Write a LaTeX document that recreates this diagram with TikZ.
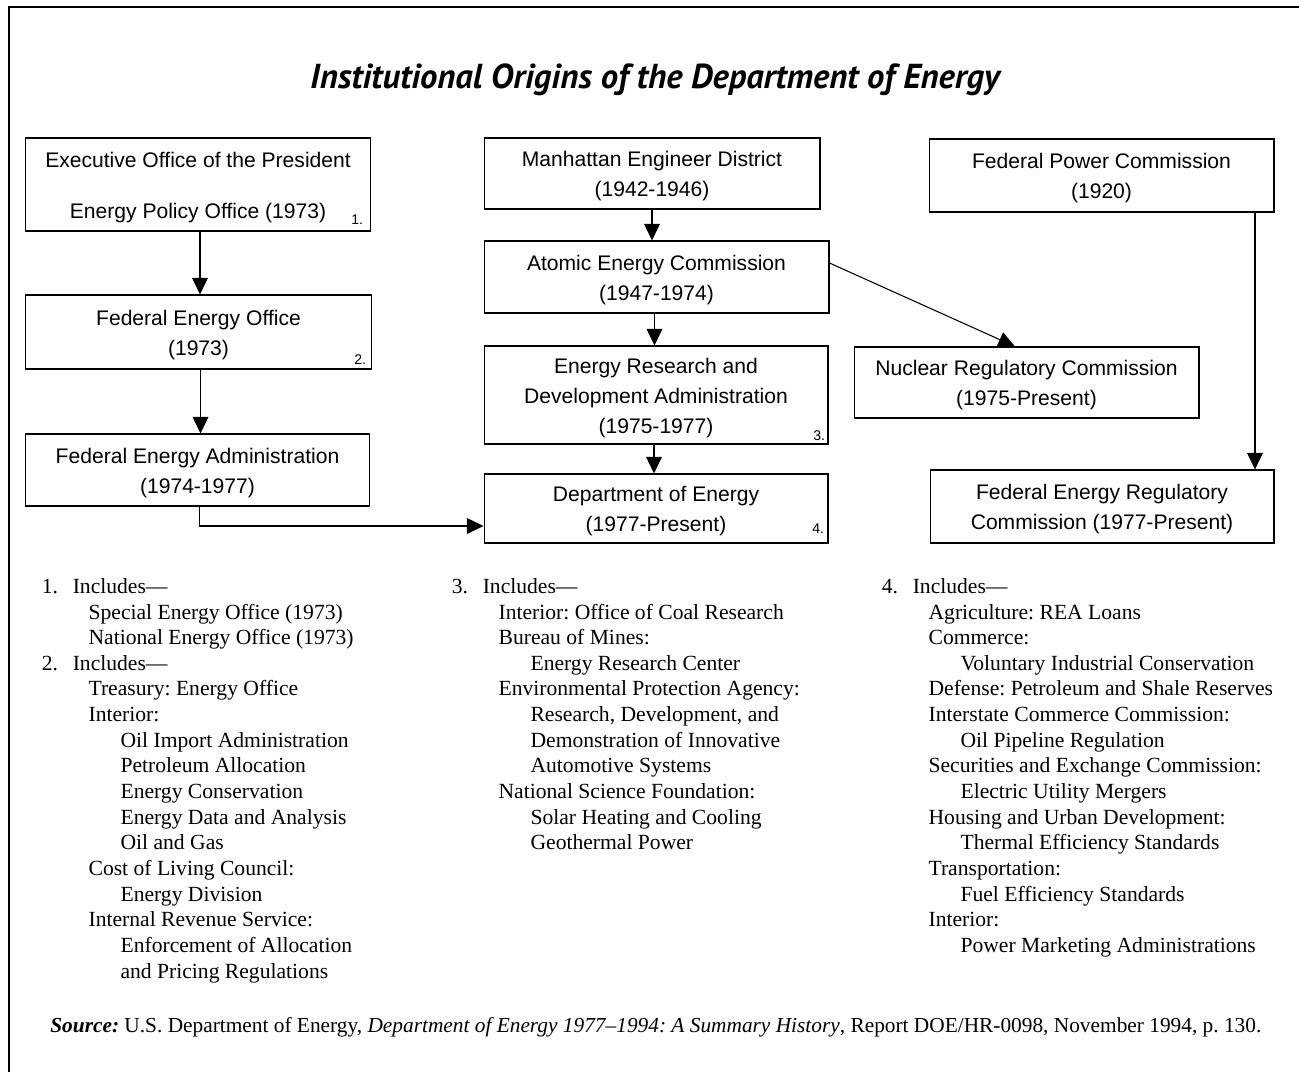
\documentclass[tikz,border=0pt]{standalone}
\usepackage{fontspec}
\setmainfont{Liberation Serif}
\newfontfamily\boxfont{Liberation Sans}
\newfontfamily\titlefont{PT Sans}
\usetikzlibrary{arrows.meta}
\frenchspacing
\newcommand{\subA}{\hspace*{26.6pt}}
\newcommand{\subB}{\hspace*{44.8pt}}
\newcommand{\noteno}[1]{\makebox[17.6pt][l]{#1}}
\newcommand{\tstrut}{\rule{0pt}{12pt}}
\begin{document}
\begin{tikzpicture}[x=0.02cm, y=-0.02cm, >={Triangle[length=9.5pt,width=9pt]},
  box/.style={draw, line width=0.6pt, inner sep=0pt, align=center, font=\boxfont\fontsize{12}{17}\selectfont},
  numlbl/.style={font=\boxfont\fontsize{8}{9}\selectfont, inner sep=0pt, anchor=base east},
  note/.style={anchor=north west, inner sep=0pt, align=left, font=\fontsize{12.3}{14.6}\selectfont},
  conn/.style={->, line width=0.6pt}]
\useasboundingbox (0,0) rectangle (1299,1072);
% frame
\draw[line width=1.5pt] (9,1090) -- (9,7) -- (1320,7);
\node[anchor=base, font=\titlefont\bfseries\itshape\fontsize{19.7}{22}\selectfont] (title) at (655,88) {Institutional Origins of the Department of Energy};

% left column
\node[box, minimum width=6.92cm, minimum height=1.86cm] (eop) at (198,184.5) {\tstrut Executive Office of the President\\[12pt]Energy Policy Office (1973)};
\node[box, minimum width=6.94cm, minimum height=1.48cm] (feo) at (198.5,332) {\tstrut Federal Energy Office\\(1973)};
\node[box, minimum width=6.9cm, minimum height=1.44cm] (fea) at (197.5,470) {\tstrut Federal Energy Administration\\(1974-1977)};
% middle column
\node[box, minimum width=6.72cm, minimum height=1.42cm] (med) at (652,173.5) {\tstrut Manhattan Engineer District\\(1942-1946)};
\node[box, minimum width=6.9cm, minimum height=1.44cm] (aec) at (656.5,277) {\tstrut Atomic Energy Commission\\(1947-1974)};
\node[box, minimum width=6.88cm, minimum height=1.96cm] (erda) at (656,395) {\tstrut Energy Research and\\Development Administration\\(1975-1977)};
\node[box, minimum width=6.88cm, minimum height=1.38cm] (doe) at (656,508.5) {\tstrut Department of Energy\\(1977-Present)};
% right column
\node[box, minimum width=6.9cm, minimum height=1.46cm] (fpc) at (1101.5,175.5) {\tstrut Federal Power Commission\\(1920)};
\node[box, minimum width=6.9cm, minimum height=1.42cm] (nrc) at (1026.5,382.5) {\tstrut Nuclear Regulatory Commission\\(1975-Present)};
\node[box, minimum width=6.88cm, minimum height=1.46cm] (ferc) at (1102,506.5) {\tstrut Federal Energy Regulatory\\Commission (1977-Present)};

\node[numlbl] (n1) at ([xshift=-0.16cm, yshift=0.14cm]eop.south east) {1.};
\node[numlbl] (n2) at ([xshift=-0.12cm, yshift=0.1cm]feo.south east) {2.};
\node[numlbl] (n3) at ([xshift=-0.06cm, yshift=0.08cm]erda.south east) {3.};
\node[numlbl] (n4) at ([xshift=-0.08cm, yshift=0.2cm]doe.south east) {4.};

\draw[conn] ([xshift=0.04cm]eop.south) -- ([xshift=0.04cm]eop.south |- feo.north);
\draw[conn] ([xshift=0.04cm]feo.south) -- ([xshift=0.04cm]feo.south |- fea.north);
\draw[conn] ([xshift=0.04cm]fea.south) |- ([yshift=-0.35cm]doe.west);
\draw[conn] (med.south) -- (med.south |- aec.north);
\draw[conn] ([xshift=-0.04cm]aec.south) -- ([xshift=-0.04cm]aec.south |- erda.north);
\draw[conn] ([xshift=-0.04cm]erda.south) -- ([xshift=-0.04cm]erda.south |- doe.north);
\draw[conn] ([yshift=0.28cm]aec.east) -- ([xshift=-0.23cm]nrc.north);
\draw[conn] ([xshift=3.07cm]fpc.south) -- ([xshift=3.07cm]fpc.south |- ferc.north);

% notes
\node[note] (notes12) at (41.5,578) {\noteno{1.}Includes—\\
\subA Special Energy Office (1973)\\
\subA National Energy Office (1973)\\
\noteno{2.}Includes—\\
\subA Treasury: Energy Office\\
\subA Interior:\\
\subB Oil Import Administration\\
\subB Petroleum Allocation\\
\subB Energy Conservation\\
\subB Energy Data and Analysis\\
\subB Oil and Gas\\
\subA Cost of Living Council:\\
\subB Energy Division\\
\subA Internal Revenue Service:\\
\subB Enforcement of Allocation\\
\subB and Pricing Regulations};
\node[note] (notes3) at (451.5,578) {\noteno{3.}Includes—\\
\subA Interior: Office of Coal Research\\
\subA Bureau of Mines:\\
\subB Energy Research Center\\
\subA Environmental Protection Agency:\\
\subB Research, Development, and\\
\subB Demonstration of Innovative\\
\subB Automotive Systems\\
\subA National Science Foundation:\\
\subB Solar Heating and Cooling\\
\subB Geothermal Power};
\node[note] (notes4) at (881.5,578) {\noteno{4.}Includes—\\
\subA Agriculture: REA Loans\\
\subA Commerce:\\
\subB Voluntary Industrial Conservation\\
\subA Defense: Petroleum and Shale Reserves\\
\subA Interstate Commerce Commission:\\
\subB Oil Pipeline Regulation\\
\subA Securities and Exchange Commission:\\
\subB Electric Utility Mergers\\
\subA Housing and Urban Development:\\
\subB Thermal Efficiency Standards\\
\subA Transportation:\\
\subB Fuel Efficiency Standards\\
\subA Interior:\\
\subB Power Marketing Administrations};

\node[anchor=base west, inner sep=0pt, font=\fontsize{12.15}{14}\selectfont] (src) at (50,1032) {\textbf{\textit{Source:}} U.S. Department of Energy, \textit{Department of Energy 1977–1994: A Summary History}, Report DOE/HR-0098, November 1994, p. 130.};
\end{tikzpicture}
\end{document}
